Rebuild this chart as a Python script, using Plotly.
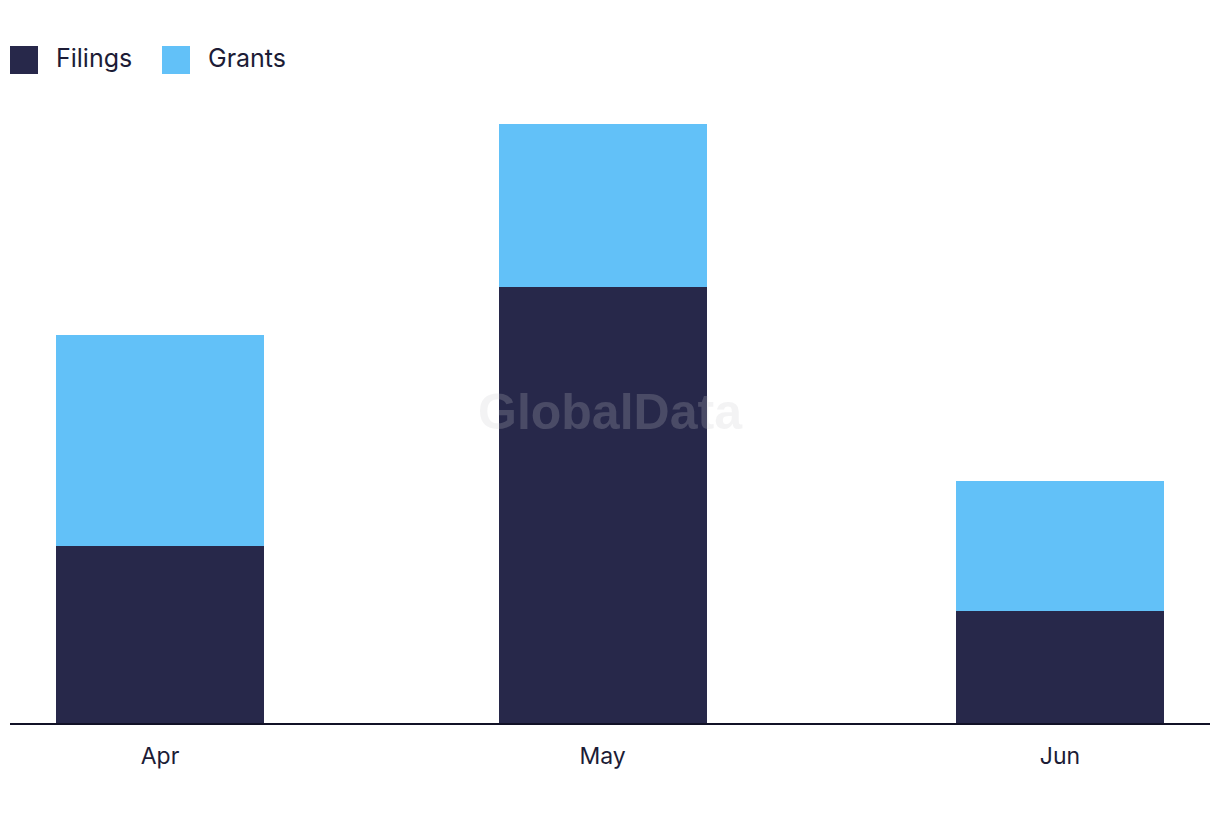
import plotly.graph_objects as go

months = ["2023-04-01", "2023-05-01", "2023-06-01"]
month_labels = ["Apr", "May", "Jun"]
filings = [15.8, 38.9, 10.0]
grants = [18.8, 14.6, 11.6]
series_names = ["Filings", "Grants"]
colors = ["#27284a", "#62c1f8"]

W, H = 1220, 822
ML, MR, MT, MB = 10, 10, 100, 99
PW, PH = W - ML - MR, H - MT - MB
day_ms = 86400000
bar_w = 14.1 * day_ms

fig = go.Figure()
for name, vals, col in zip(series_names, [filings, grants], colors):
    fig.add_trace(go.Bar(x=months, y=vals, name=name, marker_color=col,
                         marker_line_width=0, width=bar_w, showlegend=False))

def px2paper(x, y):
    return (x - ML) / PW, (H - MB - y) / PH

shapes = []
annotations = []
legend_items = [(10, 54), (162, 206)]
for (sx, tx), name, col in zip(legend_items, series_names, colors):
    x0, y0 = px2paper(sx, 74)
    x1, y1 = px2paper(sx + 28, 46)
    shapes.append(dict(type="rect", xref="paper", yref="paper", x0=x0, x1=x1, y0=y0, y1=y1,
                       fillcolor=col, line_width=0))
    ax, ay = px2paper(tx, 58)
    annotations.append(dict(text=name, xref="paper", yref="paper", x=ax, y=ay,
                            xanchor="left", yanchor="middle", showarrow=False,
                            font=dict(family="Inter", size=25, color="#1c1c36")))

wx, wy = px2paper(610, 412)
annotations.append(dict(text="<b>GlobalData</b>", xref="paper", yref="paper", x=wx, y=wy,
                        xanchor="center", yanchor="middle", showarrow=False,
                        font=dict(family="Liberation Sans", size=50, color="rgba(200,200,205,0.22)")))

fig.update_layout(
    barmode="stack",
    width=W, height=H,
    margin=dict(l=ML, r=MR, t=MT, b=MB),
    paper_bgcolor="white", plot_bgcolor="white",
    shapes=shapes, annotations=annotations,
    showlegend=False,
    xaxis=dict(type="date", range=["2023-03-21 20:00", "2023-06-11 04:00"],
               tickvals=months, ticktext=month_labels,
               ticks="outside", ticklen=11, tickcolor="rgba(0,0,0,0)",
               tickfont=dict(family="Inter", size=23, color="#1c1c36"),
               showgrid=False, zeroline=False,
               showline=True, linecolor="#111126", linewidth=2),
    yaxis=dict(range=[0, PH / 11.2], visible=False, showgrid=False, zeroline=False),
)

fig.write_html("out.html")
